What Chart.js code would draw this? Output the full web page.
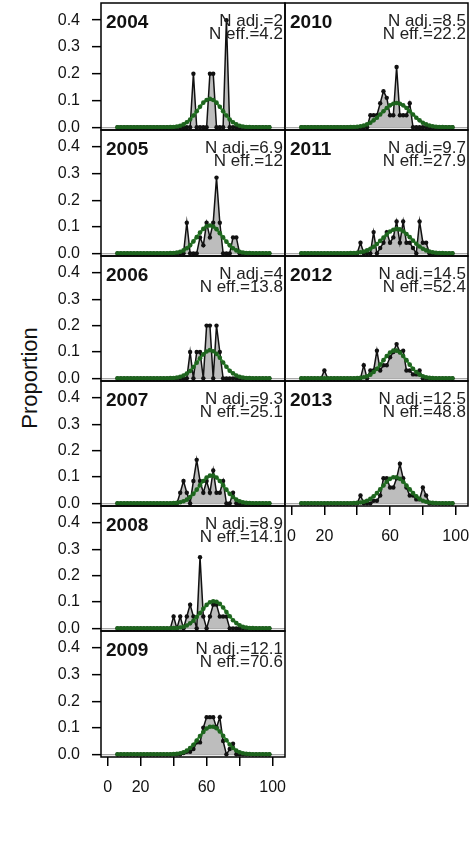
<!DOCTYPE html>
<html>
<head>
<meta charset="utf-8">
<script src="https://cdn.jsdelivr.net/npm/chart.js@4.4.1/dist/chart.umd.min.js"></script>
<style>
  body { margin: 0; background: #fff; width: 475px; height: 844px; position: relative; overflow: hidden; }
  #ylab { position: absolute; left: 30px; top: 378px; transform: translate(-50%, -50%) rotate(-90deg);
          font: 22px "Liberation Sans", Arial, sans-serif; color: #111; white-space: nowrap; }
</style>
</head>
<body>
<div id="ylab">Proportion</div>
<script>
// Längenklassen (Bins)
const bins = [6, 8, 10, 12, 14, 16, 18, 20, 22, 24, 26,
              28, 30, 32, 34, 36, 38, 40, 42, 44, 46, 48, 50,
              52, 54, 56, 58, 60, 62, 64, 66, 68, 70, 72, 74,
              76, 78, 80, 82, 84, 86, 88, 90, 92, 94, 96, 98];

const years = [2004, 2005, 2006, 2007, 2008, 2009, 2010, 2011, 2012, 2013];
const nAdj = ['2', '6.9', '4', '9.3', '8.9', '12.1', '8.5', '9.7', '14.5', '12.5'];
const nEff = ['4.2', '12', '13.8', '25.1', '14.1', '70.6', '22.2', '27.9', '52.4', '48.8'];

const yTicks = [0, 0.1, 0.2, 0.3, 0.4];
const xTicks = [0, 20, 40, 60, 80, 100];
const xTickLabels = ['0', '20', '', '60', '', '100'];

// beobachtete Anteile
const obs2004 = [0,0,0,0,0,0,0,0,0,0,0,
                 0,0,0,0,0,0,0,0,0,0,0,0,
                 0.2,0,0,0,0,0.2,0.2,0,0,0,0.4,0,
                 0,0,0,0,0,0,0,0,0,0,0,0];
const obs2005 = [0,0,0,0,0,0,0,0,0,0,0,
                 0,0,0,0,0,0,0,0,0,0,0.115,0,
                 0,0,0.06,0.03,0.115,0.06,0.115,0.285,0.115,0,0,0,
                 0.06,0.06,0,0,0,0,0,0,0,0,0,0];
const obs2006 = [0,0,0,0,0,0,0,0,0,0,0,
                 0,0,0,0,0,0,0,0,0,0,0,0.1,
                 0,0.1,0.1,0,0.2,0.2,0,0.2,0.1,0,0,0,
                 0,0,0,0,0,0,0,0,0,0,0,0];
const obs2007 = [0,0,0,0,0,0,0,0,0,0,0,
                 0,0,0,0,0,0,0,0,0.04,0.085,0.04,0,
                 0.085,0.165,0.085,0.04,0.085,0.04,0.125,0.04,0.04,0.085,0,0,
                 0.04,0,0,0,0,0,0,0,0,0,0,0];
const obs2008 = [0,0,0,0,0,0,0,0,0,0,0,
                 0,0,0,0,0,0,0.045,0,0.045,0,0.045,0.09,
                 0.045,0,0.27,0.045,0,0.045,0.09,0.09,0.045,0.045,0.045,0,
                 0,0,0,0,0,0,0,0,0,0,0,0];
const obs2009 = [0,0,0,0,0,0,0,0,0,0,0,
                 0,0,0,0,0,0,0,0,0,0.005,0.01,0.01,
                 0.02,0.045,0.045,0.1,0.14,0.14,0.14,0.1,0.14,0.05,0,0.02,
                 0.04,0,0,0,0,0,0,0,0,0,0,0];
const obs2010 = [0,0,0,0,0,0,0,0,0,0,0,
                 0,0,0,0,0,0,0,0,0,0,0.045,0.045,
                 0.045,0.09,0.135,0.11,0.045,0.045,0.225,0.045,0.045,0.045,0.09,0,
                 0,0,0,0,0,0,0,0,0,0,0,0];
const obs2011 = [0,0,0,0,0,0,0,0,0,0,0,
                 0,0,0,0,0,0,0,0.04,0,0,0,0.08,
                 0,0.02,0.04,0.08,0.04,0.06,0.12,0.04,0.12,0.04,0.04,0.02,
                 0,0.12,0.04,0.04,0,0,0,0,0,0,0,0];
const obs2012 = [0,0,0,0,0,0,0,0.03,0,0,0,
                 0,0,0,0,0,0,0,0,0.05,0,0.03,0.03,
                 0.105,0.03,0.05,0.05,0.08,0.1,0.13,0.1,0.105,0.03,0.03,0.015,
                 0.015,0.03,0,0,0,0,0,0,0,0,0,0];
const obs2013 = [0,0,0,0,0,0,0,0,0,0,0,
                 0,0,0,0,0,0,0,0.03,0,0,0,0.01,
                 0.01,0.03,0.095,0.095,0.06,0.06,0.095,0.15,0.095,0.06,0.03,0.03,
                 0.015,0.015,0.06,0.03,0,0,0,0,0,0,0,0];

// erwartete Anteile (Modell)
const exp2004 = [0,0,0,0,0,0,0,0,0,0,0,
                 0,0,0,0,0,0.001,0.001,0.003,0.006,0.011,0.019,0.029,
                 0.044,0.060,0.077,0.092,0.102,0.106,0.102,0.092,0.077,0.060,0.044,0.029,
                 0.019,0.011,0.006,0.003,0.001,0.001,0,0,0,0,0,0];
const exp2005 = [0,0,0,0,0,0,0,0,0,0,0,
                 0,0,0,0,0,0.001,0.001,0.003,0.006,0.011,0.019,0.030,
                 0.045,0.061,0.078,0.092,0.102,0.105,0.101,0.091,0.076,0.060,0.044,0.030,
                 0.019,0.011,0.006,0.003,0.001,0.001,0,0,0,0,0,0];
const exp2006 = [0,0,0,0,0,0,0,0,0,0,0,
                 0,0,0,0,0,0.001,0.001,0.003,0.006,0.011,0.018,0.028,
                 0.043,0.059,0.076,0.091,0.102,0.107,0.103,0.093,0.078,0.060,0.044,0.029,
                 0.019,0.011,0.006,0.003,0.001,0.001,0,0,0,0,0,0];
const exp2007 = [0,0,0,0,0,0,0,0,0,0,0,
                 0,0,0,0,0,0,0.001,0.002,0.004,0.008,0.014,0.024,
                 0.036,0.052,0.069,0.085,0.098,0.105,0.105,0.098,0.085,0.069,0.052,0.036,
                 0.024,0.014,0.008,0.004,0.002,0.001,0,0,0,0,0,0];
const exp2008 = [0,0,0,0,0,0,0,0,0,0,0,
                 0,0,0,0,0,0,0.001,0.001,0.003,0.006,0.011,0.019,
                 0.029,0.043,0.058,0.074,0.089,0.099,0.103,0.101,0.093,0.079,0.062,0.046,
                 0.031,0.020,0.012,0.006,0.003,0.001,0.001,0,0,0,0,0];
const exp2009 = [0,0,0,0,0,0,0,0,0,0,0,
                 0,0,0,0,0,0,0.001,0.002,0.004,0.008,0.014,0.024,
                 0.036,0.052,0.069,0.084,0.097,0.104,0.104,0.098,0.086,0.070,0.053,0.037,
                 0.024,0.014,0.008,0.004,0.002,0.001,0,0,0,0,0,0];
const exp2010 = [0,0,0,0,0,0,0,0,0,0,0,
                 0,0,0,0,0.001,0.001,0.002,0.004,0.007,0.011,0.017,0.026,
                 0.036,0.048,0.060,0.072,0.082,0.088,0.091,0.088,0.082,0.072,0.060,0.048,
                 0.036,0.026,0.017,0.011,0.007,0.004,0.002,0.001,0.001,0,0,0];
const exp2011 = [0,0,0,0,0,0,0,0,0,0,0,
                 0,0,0,0,0.001,0.001,0.002,0.004,0.007,0.011,0.017,0.025,
                 0.035,0.047,0.059,0.071,0.082,0.089,0.092,0.090,0.083,0.073,0.061,0.048,
                 0.036,0.026,0.017,0.011,0.007,0.004,0.002,0.001,0.001,0,0,0];
const exp2012 = [0,0,0,0,0,0,0,0,0,0,0,
                 0,0,0,0,0,0,0.001,0.002,0.004,0.008,0.014,0.024,
                 0.036,0.052,0.069,0.085,0.098,0.105,0.105,0.098,0.085,0.069,0.052,0.036,
                 0.024,0.014,0.008,0.004,0.002,0.001,0,0,0,0,0,0];
const exp2013 = [0,0,0,0,0,0,0,0,0,0,0,
                 0,0,0,0,0,0.001,0.002,0.003,0.006,0.010,0.017,0.027,
                 0.039,0.053,0.068,0.082,0.093,0.099,0.099,0.093,0.082,0.068,0.053,0.039,
                 0.027,0.017,0.010,0.006,0.003,0.002,0.001,0,0,0,0,0];

const observed = [obs2004, obs2005, obs2006, obs2007, obs2008, obs2009, obs2010, obs2011, obs2012, obs2013];
const expected = [exp2004, exp2005, exp2006, exp2007, exp2008, exp2009, exp2010, exp2011, exp2012, exp2013];

// Rahmen und Beschriftung je Panel
const panelDecor = {
  id: 'panelDecor',
  afterDraw(chart, args, opts) {
    const { ctx, chartArea: a } = chart;
    ctx.save();
    ctx.strokeStyle = '#000';
    ctx.lineWidth = 1.5;
    ctx.strokeRect(a.left, a.top, a.right - a.left, a.bottom - a.top);
    ctx.fillStyle = '#111';
    ctx.font = 'bold 19px "Liberation Sans", Arial, sans-serif';
    ctx.textAlign = 'left';
    ctx.fillText(opts.year, a.left + 5, a.top + 25);
    ctx.fillStyle = '#222';
    ctx.font = '17px "Liberation Sans", Arial, sans-serif';
    ctx.textAlign = 'right';
    ctx.fillText('N adj.=' + opts.adj, a.right - 2, a.top + 23);
    ctx.fillText('N eff.=' + opts.eff, a.right - 2, a.top + 36);
    ctx.restore();
  }
};

const cols = [
  { left: 0, width: 290, padL: 0, padR: 5, yWidth: 101, showY: true },
  { left: 280, width: 195, padL: 5, padR: 7, yWidth: 0, showY: false }
];
const rowTops = [3, 130, 256, 381, 506, 631, 757];
const font = { family: '"Liberation Sans", Arial, sans-serif', size: 16 };

years.forEach((yr, k) => {
  const col = k < 6 ? 0 : 1;
  const row = col ? k - 6 : k;
  const last = (col === 0 && row === 5) || (col === 1 && row === 3);
  const c = cols[col];
  const top = rowTops[row];
  const boxH = rowTops[row + 1] - top;
  const h = 5 + boxH + (last ? 55 : 5);

  const canvas = document.createElement('canvas');
  canvas.width = c.width;
  canvas.height = h;
  canvas.style.position = 'absolute';
  canvas.style.left = c.left + 'px';
  canvas.style.top = (top - 5) + 'px';
  canvas.style.width = c.width + 'px';
  canvas.style.height = h + 'px';
  document.body.appendChild(canvas);

  new Chart(canvas, {
    type: 'line',
    data: {
      datasets: [
        {
          label: 'expected',
          data: expected[k].map((v, i) => ({ x: bins[i], y: v })),
          borderColor: 'rgba(45,145,45,0.9)',
          borderWidth: 2.5,
          pointRadius: 2.3,
          pointBackgroundColor: '#1e641e',
          pointBorderWidth: 0,
          fill: false,
          order: 0
        },
        {
          label: 'observed',
          data: observed[k].map((v, i) => ({ x: bins[i], y: v })),
          borderColor: '#111',
          borderWidth: 1.5,
          pointRadius: 2.2,
          pointBackgroundColor: '#111',
          pointBorderWidth: 0,
          backgroundColor: '#bdbdbd',
          fill: 'origin',
          order: 1
        }
      ]
    },
    options: {
      responsive: false,
      maintainAspectRatio: false,
      animation: false,
      layout: { autoPadding: false, padding: { left: c.padL, right: c.padR, top: 5, bottom: last ? 0 : 5 } },
      plugins: {
        legend: { display: false },
        tooltip: { enabled: false },
        panelDecor: { year: String(yr), adj: nAdj[k], eff: nEff[k] }
      },
      scales: {
        x: {
          type: 'linear',
          min: -4,
          max: 107.5,
          display: last,
          afterBuildTicks: s => { s.ticks = xTicks.map(v => ({ value: v })); },
          afterFit: s => {
            s.height = last ? 55 : 0;
            s.paddingLeft = 0; s.paddingRight = 0;
          },
          ticks: {
            callback: (v) => xTickLabels[xTicks.indexOf(v)],
            font: font, color: '#111', padding: 12, maxRotation: 0, autoSkip: false
          },
          grid: { drawOnChartArea: false, tickLength: 9, tickColor: '#000', lineWidth: 1.5 },
          border: { display: false }
        },
        y: {
          min: -0.01,
          max: 0.464,
          afterBuildTicks: s => { s.ticks = yTicks.map(v => ({ value: v })); },
          afterFit: s => {
            s.width = c.yWidth;
            s.paddingTop = 0; s.paddingBottom = 0;
          },
          ticks: {
            display: c.showY,
            callback: v => v.toFixed(1),
            font: font, color: '#111', padding: 12
          },
          grid: {
            color: ctx => (ctx.tick && ctx.tick.value === 0) ? '#a8a8a8' : 'rgba(0,0,0,0)',
            lineWidth: 1.3,
            drawTicks: c.showY,
            tickLength: 9,
            tickColor: '#000',
            tickWidth: 1.5
          },
          border: { display: false }
        }
      }
    },
    plugins: [panelDecor]
  });
});
</script>
</body>
</html>
